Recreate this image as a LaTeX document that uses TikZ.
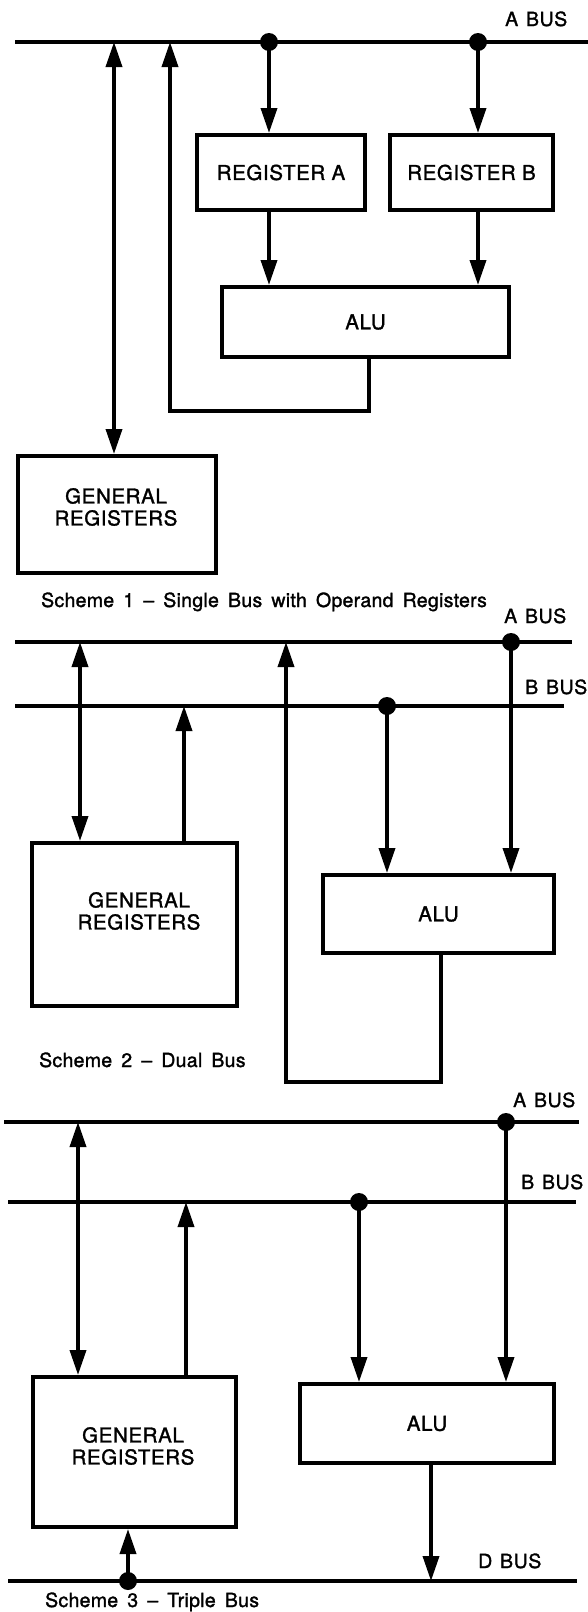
\documentclass[tikz,border=0pt]{standalone}
\usepackage{fontspec}
\setmainfont{TeX Gyre Heros}
\newfontfamily\capfont[WordSpace=1.6,LetterSpace=1.5,FakeBold=1.5]{TeX Gyre Heros}
\newfontfamily\lblfont[LetterSpace=3,FakeBold=1.5]{TeX Gyre Heros}
\usetikzlibrary{arrows.meta}
\begin{document}
\begin{tikzpicture}[x=1pt,y=-1pt,
  bus/.style={line width=4pt},
  box/.style={draw,line width=4pt,rectangle,inner sep=0pt,font=\lblfont\fontsize{20.5}{22}\selectfont},
  wire/.style={line width=3.6pt},
  arr/.style={wire,-{Triangle[length=25pt,width=16pt]}},
  dbl/.style={wire,{Triangle[length=25pt,width=16pt]}-{Triangle[length=25pt,width=16pt]}},
  lbl/.style={font=\lblfont\fontsize{20.5}{22}\selectfont,inner sep=0pt,align=center},
  buslbl/.style={font=\lblfont\fontsize{19.5}{22}\selectfont,inner sep=0pt,anchor=base west},
  captxt/.style={font=\capfont\fontsize{19.5}{22}\selectfont,inner sep=0pt,anchor=base west},
  dotr/.style={fill}
]
\useasboundingbox (0,0) rectangle (588,1612);

% ---------------- Scheme 1 ----------------
\coordinate (a1L) at (15,42); \coordinate (a1R) at (590,42);
\draw[bus] (a1L) -- (a1R);
\node[buslbl] (a1t) at (505,26) {A\hspace{0.4em}BUS};
\coordinate (d11) at (269,42); \coordinate (d12) at (478,42);
\node[box,minimum width=168pt,minimum height=75pt] (ra) at (281,172.5) {REGISTER A};
\node[box,minimum width=163pt,minimum height=75pt] (rb) at (471.5,172.5) {REGISTER B};
\node[box,minimum width=287pt,minimum height=70pt] (alu1) at (365.5,322) {ALU};
\node[box,minimum width=198pt,minimum height=117pt] (gr1) at (117,514.5) {};
\node[lbl] (gr1t) at (116,507) {GENERAL\\REGISTERS};
\draw[arr] (d11) -- (d11 |- ra.north);
\draw[arr] (d12) -- (d12 |- rb.north);
\draw[arr] (ra.south -| d11) -- (alu1.north -| d11);
\draw[arr] (rb.south -| d12) -- (alu1.north -| d12);
\coordinate (l1a) at (369,411); \coordinate (l1b) at (170,411);
\draw[arr] (alu1.south -| l1a) -- (l1a) -- (l1b) -- (l1b |- a1L);
\coordinate (v1) at (114,42);
\draw[dbl] (v1) -- (v1 |- gr1.north);
\fill[dotr] (d11) circle (9pt); \fill[dotr] (d12) circle (9pt);
\node[captxt] (c1) at (41,607) {Scheme 1 – Single Bus with Operand Registers};

% ---------------- Scheme 2 ----------------
\coordinate (a2L) at (15,642); \coordinate (a2R) at (572,642);
\coordinate (b2L) at (15,706); \coordinate (b2R) at (564,706);
\draw[bus] (a2L) -- (a2R);
\draw[bus] (b2L) -- (b2R);
\node[buslbl] (a2t) at (504,623) {A\hspace{0.4em}BUS};
\node[buslbl] (b2t) at (525,694) {B\hspace{0.4em}BUS};
\node[box,minimum width=205pt,minimum height=163pt] (gr2) at (134.5,924.5) {};
\node[lbl] (gr2t) at (139,911) {GENERAL\\REGISTERS};
\node[box,minimum width=231pt,minimum height=78pt] (alu2) at (438.5,914) {ALU};
\coordinate (d21) at (511,642); \coordinate (d22) at (387,706);
\draw[arr] (d21) -- (d21 |- alu2.north);
\draw[arr] (d22) -- (d22 |- alu2.north);
\coordinate (u2) at (184,706);
\draw[arr] (u2 |- gr2.north) -- (u2);
\coordinate (v2) at (80,642);
\draw[dbl] (v2) -- (v2 |- gr2.north);
\coordinate (l2a) at (441,1082); \coordinate (l2b) at (286,1082);
\draw[arr] (alu2.south -| l2a) -- (l2a) -- (l2b) -- (l2b |- a2L);
\fill[dotr] (d21) circle (9pt); \fill[dotr] (d22) circle (9pt);
\node[captxt] (c2) at (39,1067) {Scheme 2 – Dual Bus};

% ---------------- Scheme 3 ----------------
\coordinate (a3L) at (4,1122); \coordinate (a3R) at (579,1122);
\coordinate (b3L) at (8,1202); \coordinate (b3R) at (576,1202);
\coordinate (dL) at (8,1581); \coordinate (dR) at (577,1581);
\draw[bus] (a3L) -- (a3R);
\draw[bus] (b3L) -- (b3R);
\draw[bus] (dL) -- (dR);
\node[buslbl] (a3t) at (513,1107) {A\hspace{0.4em}BUS};
\node[buslbl] (b3t) at (521,1189) {B\hspace{0.4em}BUS};
\node[buslbl] (d3t) at (478,1568) {D\hspace{0.4em}BUS};
\node[box,minimum width=203pt,minimum height=150pt] (gr3) at (134.5,1452) {};
\node[lbl] (gr3t) at (133,1446) {GENERAL\\REGISTERS};
\node[box,minimum width=254pt,minimum height=79pt] (alu3) at (427,1423.5) {ALU};
\coordinate (d31) at (506,1122); \coordinate (d32) at (359,1202); \coordinate (d33) at (128,1581);
\draw[arr] (d31) -- (d31 |- alu3.north);
\draw[arr] (d32) -- (d32 |- alu3.north);
\coordinate (u3) at (186,1202);
\draw[arr] (u3 |- gr3.north) -- (u3);
\coordinate (v3) at (78,1122);
\draw[dbl] (v3) -- (v3 |- gr3.north);
\coordinate (o3) at (431,1581);
\draw[arr] (alu3.south -| o3) -- (o3);
\draw[arr] (d33) -- (d33 |- gr3.south);
\fill[dotr] (d31) circle (9pt); \fill[dotr] (d32) circle (9pt); \fill[dotr] (d33) circle (9pt);
\node[captxt] (c3) at (45,1607) {Scheme 3 – Triple Bus};
\end{tikzpicture}
\end{document}
